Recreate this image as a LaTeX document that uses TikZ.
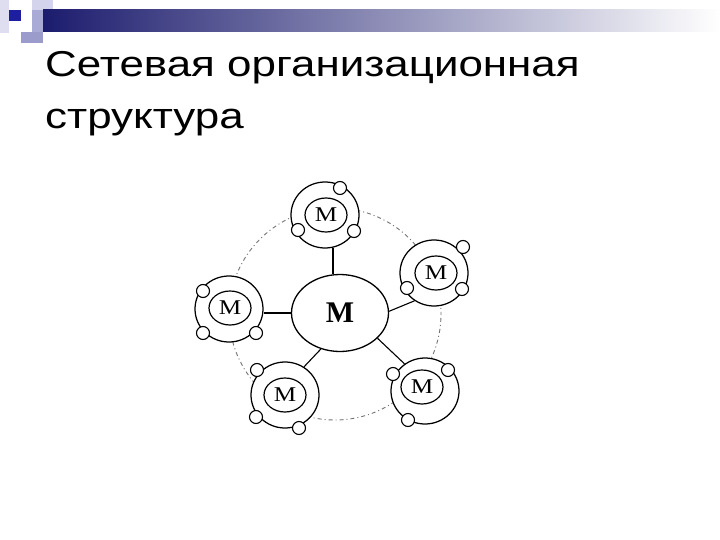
\documentclass[tikz,border=0pt]{standalone}
\usepackage{fontspec}
\setmainfont{Liberation Serif}
\newfontfamily\titlefont[FakeStretch=1.22]{Liberation Sans}
\newfontfamily\satfont[FakeStretch=1.2]{Liberation Serif}
\usetikzlibrary{shapes.geometric}
\definecolor{navy}{RGB}{28,28,110}
\definecolor{barmid}{RGB}{165,165,195}
\definecolor{palelav}{RGB}{222,222,240}
\definecolor{midlav}{RGB}{170,170,215}
\definecolor{lightlav}{RGB}{212,212,236}
\definecolor{graylav}{RGB}{156,156,204}
\definecolor{dkblue}{RGB}{30,30,160}
\begin{document}
\begin{tikzpicture}[x=1pt,y=-1pt,
  ring/.style={draw, ellipse, fill=white, line width=1.25pt, minimum width=68pt, minimum height=66pt, inner sep=0pt},
  core/.style={draw, ellipse, fill=white, line width=1.2pt, minimum width=42pt, minimum height=34pt, inner sep=0pt, font=\satfont\fontsize{21}{21}\selectfont},
  dot/.style={draw, circle, fill=white, line width=1.1pt, minimum size=13pt, inner sep=0pt},
  hub/.style={draw, ellipse, fill=white, line width=1.3pt, minimum width=97pt, minimum height=77pt, inner sep=0pt, font=\bfseries\fontsize{30}{30}\selectfont},
  link/.style={line width=1.1pt},
  thicklink/.style={line width=1.7pt},
  orbit/.style={black!55, line width=0.9pt, dash pattern=on 1pt off 3pt on 4pt off 3pt}
]
\useasboundingbox (0,0) rectangle (720,540);
\fill[white] (0,0) rectangle (720,540);
% header decoration
\fill[palelav] (0,0) rectangle (9,33);
\fill[lightlav] (32,0) rectangle (53,10);
\fill[midlav] (32,10) rectangle (43,32);
\fill[graylav] (21,32) rectangle (43,43);
\shade[left color=navy, middle color=barmid, right color=white] (43,10) rectangle (720,32);
\fill[dkblue] (9,10) rectangle (21,21);
% title
\node[anchor=base west, align=left, inner sep=0pt, font=\titlefont\fontsize{36}{52}\selectfont] (title) at (45,129) {Сетевая организационная\\структура};
% dotted orbit
\draw[orbit] (335,314) circle[radius=106];
% hub
\node[hub] (c) at (340,313) {М};
% top satellite
\node[ring] (t) at (325,215) {};
\node[core] (tc) at (326,215) {М};
\node[dot] (t1) at (340,188) {};
\node[dot] (t2) at (298,230) {};
\node[dot] (t3) at (354,231) {};
% right satellite
\node[ring] (r) at (434,273) {};
\node[core] (rc) at (436,273) {М};
\node[dot] (r1) at (463,247) {};
\node[dot] (r2) at (407,288) {};
\node[dot] (r3) at (462,289) {};
% left satellite
\node[ring] (l) at (229,309) {};
\node[core] (lc) at (230,308) {М};
\node[dot] (l1) at (203,291) {};
\node[dot] (l2) at (203,333) {};
\node[dot] (l3) at (256,333) {};
% bottom-left satellite
\node[ring] (bl) at (285,395) {};
\node[core] (blc) at (285,395) {М};
\node[dot] (bl1) at (257,370) {};
\node[dot] (bl2) at (256,417) {};
\node[dot] (bl3) at (299,428) {};
% bottom-right satellite
\node[ring] (br) at (425,391) {};
\node[core] (brc) at (422,387) {М};
\node[dot] (br1) at (393,374) {};
\node[dot] (br2) at (448,370) {};
\node[dot] (br3) at (408,420) {};
% connectors
\draw[thicklink] (t.-76) -- (t.-76 |- c.north);
\draw[thicklink] (l.east |- c.west) -- (c.west);
\draw[link] (c.2) -- (r.235);
\draw[link] (c.-34) -- (br.127);
\draw[link] (c.242) -- (bl.56);
\end{tikzpicture}
\end{document}
